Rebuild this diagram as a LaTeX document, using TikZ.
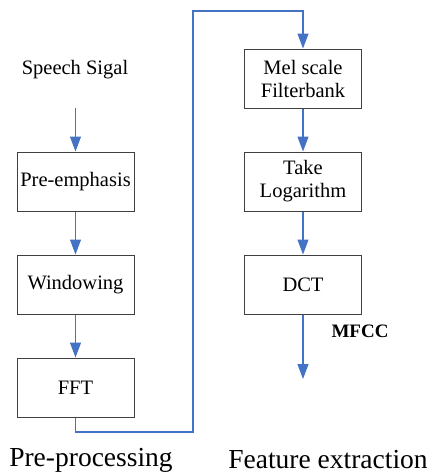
\documentclass[tikz,border=0pt]{standalone}
\usepackage{fontspec}
\setmainfont{Liberation Serif}
\usetikzlibrary{arrows.meta}
\definecolor{flowblue}{RGB}{68,114,196}
\definecolor{boxgray}{RGB}{64,64,64}

\begin{document}
\begin{tikzpicture}[x=1pt, y=-1pt, every node/.style={font=\fontsize{20.5}{23}\selectfont},
	box/.style={draw=boxgray, line width=1pt, minimum width=117pt, minimum height=59pt, align=center, inner sep=0pt},
	flow/.style={draw=flowblue, line width=1.1pt, -{Triangle[length=15pt, width=11pt]}}]
	\useasboundingbox (0,0) rectangle (427,474);
	% pre-processing column
	\node (sig) at (75,70) {Speech Sigal};
	\coordinate (sigout) at (75.5,108);
	\node[box] (pre) at (75.5,181.5) {Pre-emphasis};
	\node[box] (win) at (75.5,284.5) {Windowing};
	\node[box] (fft) at (75.5,387.5) {FFT};
	% feature extraction column
	\node[box] (mel) at (303,78.5) {Mel scale\\Filterbank};
	\node[box] (log) at (303,181.5) {Take\\Logarithm};
	\node[box] (dct) at (303,284.5) {DCT};
	\coordinate (out) at (303,379);
	\node[font=\fontsize{19}{21}\selectfont\bfseries] (mfcc) at (360,331) {MFCC};
	% links
	\draw[flow] (sigout) -- (pre);
	\draw[flow] (pre) -- (win);
	\draw[flow] (win) -- (fft);
	\coordinate (low) at (193,432);
	\coordinate (top) at (193,11);
	\draw[flow] (fft.south) |- (low) -- (top) -| (mel.north);
	\draw[flow] (mel) -- (log);
	\draw[flow] (log) -- (dct);
	\draw[flow] (dct) -- (out);
	% captions
	\node[font=\fontsize{27.5}{30}\selectfont] (prelbl) at (91,460) {Pre-processing};
	\node[font=\fontsize{27.5}{30}\selectfont] (featlbl) at (328,460) {Feature extraction};
\end{tikzpicture}
\end{document}
